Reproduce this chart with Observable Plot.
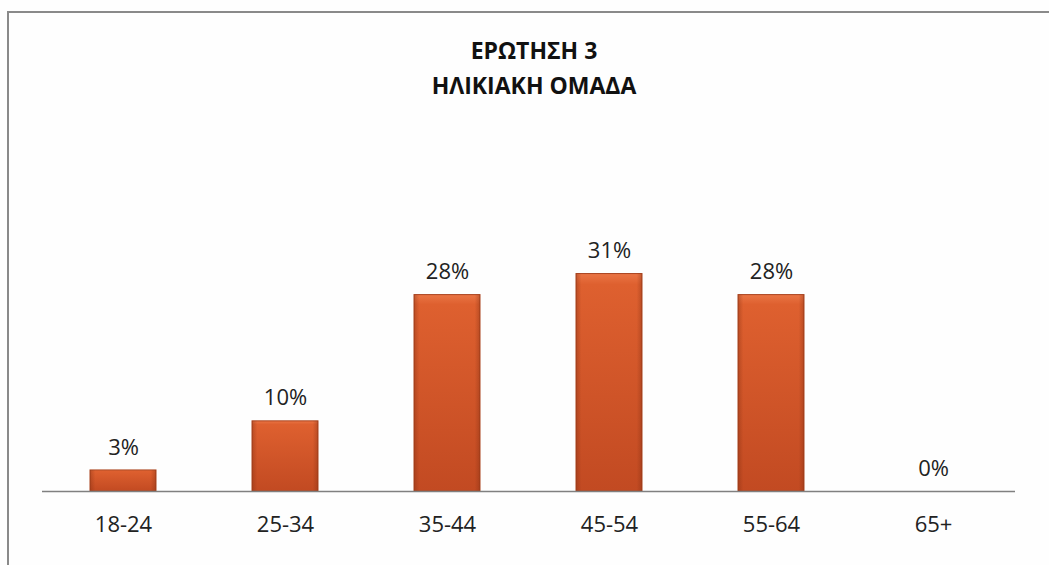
<!DOCTYPE html>
<html>
<head>
<meta charset="utf-8">
<script src="https://cdn.jsdelivr.net/npm/d3@7"></script>
<script src="https://cdn.jsdelivr.net/npm/@observablehq/plot@0.6"></script>
<style>
  html, body { margin: 0; padding: 0; background: #ffffff; }
  #wrap { position: relative; width: 1049px; height: 565px; overflow: hidden; background: #fefefe; }
  #frame { position: absolute; left: 7px; top: 11px; width: 1100px; height: 600px;
           border-left: 2px solid #8a8a8a; border-top: 2px solid #8a8a8a; }
  #chart { position: absolute; left: 0; top: 0; }
</style>
</head>
<body>
<div id="wrap"><div id="frame"></div><div id="chart"></div></div>
<script>
const titleLines = ["ΕΡΩΤΗΣΗ 3", "ΗΛΙΚΙΑΚΗ ΟΜΑΔΑ"];
const categories = ["18-24", "25-34", "35-44", "45-54", "55-64", "65+"];
const values = [3, 10, 28, 31, 28, 0];
const valueLabels = ["3%", "10%", "28%", "31%", "28%", "0%"];

const data = categories.map((c, i) => ({ cat: c, v: values[i], label: valueLabels[i] }));

const titleFont = "'Open Sans', sans-serif";

const plot = Plot.plot({
  width: 1049,
  height: 565,
  marginLeft: 42,
  marginRight: 34,
  marginTop: 0,
  marginBottom: 74,
  style: { fontFamily: "'Open Sans', sans-serif", background: "transparent" },
  x: { domain: categories, paddingInner: 0.59, paddingOuter: 0.295, label: null },
  y: { domain: [0, 70], axis: null },
  marks: [
    Plot.axisX({ tickSize: 0, tickPadding: 25, fontSize: 22, fill: "#222", label: null }),
    Plot.barY(data, { x: "cat", y: "v", fill: "url(#barGrad)", stroke: "#a9421d", strokeWidth: 1 }),
    Plot.barY(data, { x: "cat", y: "v", fill: "url(#barSide)" }),
    Plot.ruleY([0], { stroke: "#808080", strokeWidth: 1.5 }),
    Plot.text(data, { x: "cat", y: "v", text: "label", dy: -23, fontSize: 22, fill: "#222", lineAnchor: "middle" }),
    Plot.text([titleLines[0]], { frameAnchor: "top", dy: 51, dx: 5, lineAnchor: "middle", fontSize: 23, fontWeight: "bold", fill: "#111", fontFamily: titleFont }),
    Plot.text([titleLines[1]], { frameAnchor: "top", dy: 86, dx: 5, lineAnchor: "middle", fontSize: 23, fontWeight: "bold", fill: "#111", fontFamily: titleFont })
  ]
});

const svg = d3.select(plot);
const defs = svg.insert("defs", ":first-child");
const g = defs.append("linearGradient").attr("id", "barGrad").attr("x1", 0).attr("y1", 0).attr("x2", 0).attr("y2", 1);
g.append("stop").attr("offset", "0%").attr("stop-color", "#ea7545");
g.append("stop").attr("offset", "5%").attr("stop-color", "#de602f");
g.append("stop").attr("offset", "100%").attr("stop-color", "#c24a22");
const s = defs.append("linearGradient").attr("id", "barSide").attr("x1", 0).attr("y1", 0).attr("x2", 1).attr("y2", 0);
s.append("stop").attr("offset", "0%").attr("stop-color", "#7a2a10").attr("stop-opacity", 0.35);
s.append("stop").attr("offset", "8%").attr("stop-color", "#7a2a10").attr("stop-opacity", 0);
s.append("stop").attr("offset", "92%").attr("stop-color", "#7a2a10").attr("stop-opacity", 0);
s.append("stop").attr("offset", "100%").attr("stop-color", "#7a2a10").attr("stop-opacity", 0.35);

document.getElementById("chart").appendChild(plot);
</script>
</body>
</html>
